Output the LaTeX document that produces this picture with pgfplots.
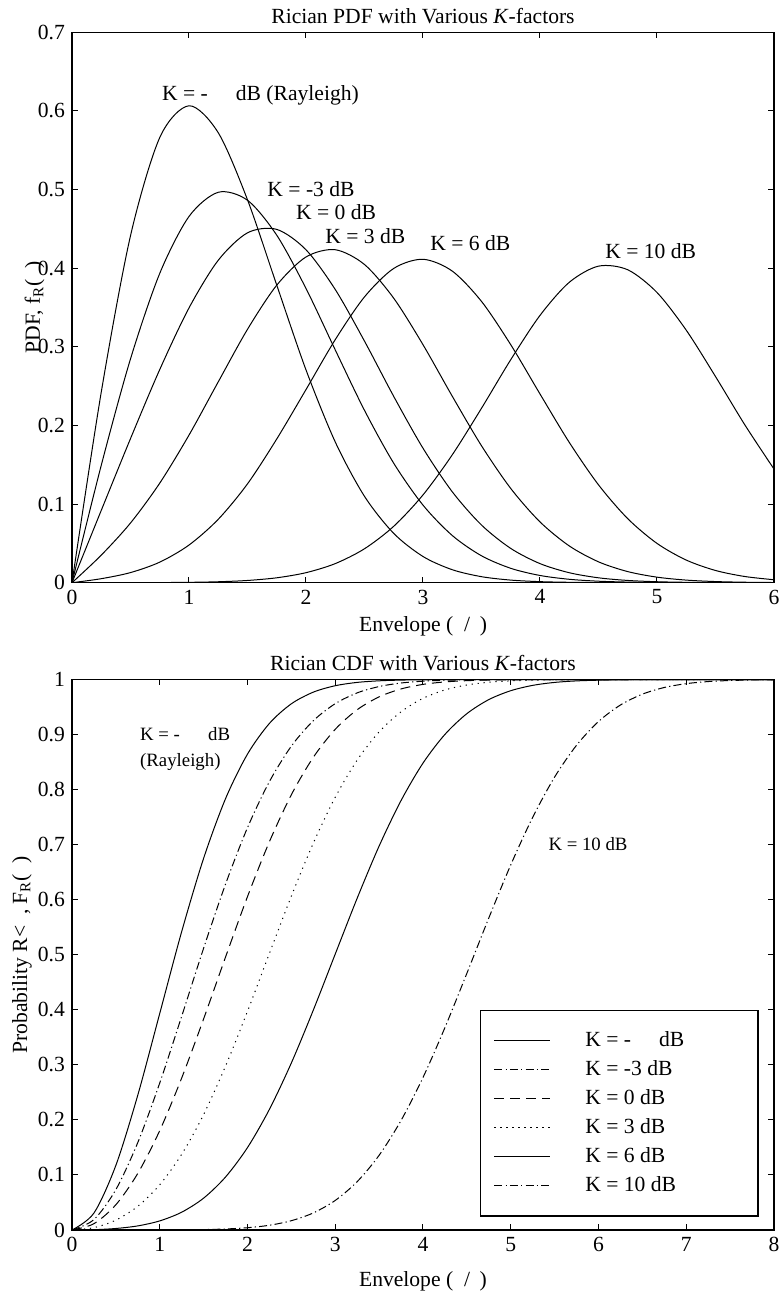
\documentclass[border=0pt]{standalone}
\usepackage{fontspec}
\setmainfont{Liberation Serif}
\usepackage{pgfplots}
\pgfplotsset{compat=1.18}
\begin{document}
\begin{tikzpicture}[
  cdash/.style={dash pattern=on 4pt off 1.6pt on 0.6pt off 1.6pt},
  cdashed/.style={dash pattern=on 5pt off 3pt},
  cdot/.style={dash pattern=on 0.6pt off 2.4pt}]
\useasboundingbox (-36pt,-356.65pt) rectangle (355.5pt,291.35pt);
\pgfplotsset{
  every axis/.append style={
    scale only axis, width=351pt, height=275.2pt,
    font=\fontsize{10.8}{13}\selectfont,
    axis line style={line width=0.6pt},
    every tick/.style={black, line width=0.5pt},
    major tick length=2.8pt,
    /pgf/number format/assume math mode=true,
    yticklabel style={/pgf/number format/fixed,/pgf/number format/precision=1},
  },
  every axis title/.style={at={(0.5,1.0158)}, anchor=base},
  every axis plot/.append style={black, line width=0.5pt, no markers, smooth},
}
% ---------------- PDF ----------------
\begin{axis}[at={(0pt,0pt)}, anchor=south west,
  xmin=0, xmax=6, ymin=0, ymax=0.7,
  xtick={0,1,2,3,4,5,6},
  ytick={0,0.1,0.2,0.3,0.4,0.5,0.6,0.7},
  title={Rician PDF with Various \textit{K}-factors},
  xlabel={Envelope (\hspace{0.5em}/\hspace{0.45em})},
  xlabel style={at={(axis description cs:0.5,-0.089)}, anchor=base},
  ylabel={PDF, f\textsubscript{R}(\hspace{0.5em})},
  ylabel style={at={(axis description cs:-0.0456,0.5)}, anchor=base, rotate=0},
]
\addplot[black,solid] coordinates {(0,0)(0.25,0.24231)(0.5,0.44125)(0.75,0.56613)(1,0.60653)(1.25,0.57229)(1.5,0.48698)(1.75,0.37846)(2,0.27067)(2.25,0.17901)(2.5,0.10984)(2.75,0.06268)(3,0.03333)(3.25,0.01653)(3.5,0.00766)(3.75,0.00331)(4,0.00134)(4.25,0.00051)(4.5,0.00018)(4.75,0.00006)(5,0.00002)(5.5,0)(6,0)};
\addplot[black,solid] coordinates {(0,0)(0.25,0.14927)(0.5,0.28462)(0.75,0.39339)(1,0.46576)(1.25,0.49653)(1.5,0.48639)(1.75,0.44194)(2,0.37424)(2.25,0.29609)(2.5,0.21919)(2.75,0.15191)(3,0.09867)(3.25,0.06005)(3.5,0.03423)(3.75,0.01830)(4,0.00919)(4.25,0.00434)(4.5,0.0019)(4.75,0.0008)(5,0.0003)(5.5,0.00003)(6,0)};
\addplot[black,solid] coordinates {(0,0)(0.25,0.09195)(0.5,0.18326)(0.75,0.27109)(1,0.34944)(1.25,0.41007)(1.5,0.44498)(1.75,0.44934)(2,0.42342)(2.25,0.37290)(2.5,0.30722)(2.75,0.23686)(3,0.17106)(3.25,0.11567)(3.5,0.07335)(3.75,0.04359)(4,0.02429)(4.25,0.01269)(4.5,0.00622)(4.75,0.00286)(5,0.00123)(5.25,0.0005)(5.5,0.00019)(5.75,0.00007)(6,0.00002)};
\addplot[black,solid] coordinates {(0,0)(0.25,0.035035)(0.5,0.075924)(0.75,0.126632)(1,0.187698)(1.25,0.25543)(1.5,0.322267)(1.75,0.37838)(2,0.41427)(2.25,0.423466)(2.5,0.404664)(2.75,0.361744)(3,0.302693)(3.25,0.237204)(3.5,0.174156)(3.75,0.119847)(4,0.077318)(4.25,0.046773)(4.5,0.026539)(4.75,0.014125)(5,0.007053)(5.25,0.003305)(5.5,0.001453)(5.75,0.0006)(6,0.000232)};
\addplot[black,solid] coordinates {(0,0)(0.25,0.005103)(0.5,0.012874)(0.75,0.026154)(1,0.047887)(1.25,0.080639)(1.5,0.125711)(1.75,0.182778)(2,0.24561)(2.25,0.309128)(2.5,0.3635)(2.75,0.399692)(3,0.411314)(3.25,0.396327)(3.5,0.357763)(3.75,0.302667)(4,0.240034)(4.25,0.178497)(4.5,0.124481)(4.75,0.081437)(5,0.049984)(5.25,0.028783)(5.5,0.015554)(5.75,0.007888)(6,0.003755)};
\addplot[black,solid] coordinates {(0,0)(0.25,0.0000147)(0.5,0.0000541)(0.75,0.000168)(1,0.00047)(1.25,0.001204)(1.5,0.002847)(1.75,0.006245)(2,0.012751)(2.25,0.024276)(2.5,0.043168)(2.75,0.071767)(3,0.111642)(3.25,0.162603)(3.5,0.221846)(3.75,0.283637)(4,0.339942)(4.25,0.382009)(4.5,0.402589)(4.75,0.397973)(5,0.369077)(5.25,0.321154)(5.5,0.26223)(5.75,0.200936)(6,0.14451)};
\node[anchor=base west] at (axis cs:0.709,0.6135) {K = -\hspace{1.3em}dB (Rayleigh)};
\node[anchor=base west] at (axis cs:1.61,0.4913) {K = -3 dB};
\node[anchor=base west] at (axis cs:1.855,0.4625) {K = 0 dB};
\node[anchor=base west] at (axis cs:2.105,0.432) {K = 3 dB};
\node[anchor=base west] at (axis cs:3.003,0.4222) {K = 6 dB};
\node[anchor=base west] at (axis cs:4.498,0.4129) {K = 10 dB};
\end{axis}
% ---------------- CDF ----------------
\begin{axis}[at={(0pt,-323.65pt)}, anchor=south west,
  xmin=0, xmax=8, ymin=0, ymax=1,
  xtick={0,1,2,3,4,5,6,7,8},
  ytick={0,0.1,0.2,0.3,0.4,0.5,0.6,0.7,0.8,0.9,1},
  title={Rician CDF with Various \textit{K}-factors},
  xlabel={Envelope (\hspace{0.5em}/\hspace{0.45em})},
  xlabel style={at={(axis description cs:0.5,-0.103)}, anchor=base},
  ylabel={Probability R<\hspace{0.5em}, F\textsubscript{R}(\hspace{0.5em})},
  ylabel style={at={(axis description cs:-0.0641,0.5)}, anchor=base, rotate=0},
  legend cell align=left,
  legend image code/.code={\draw[line width=0.5pt,#1] (6.85pt,0pt) -- (34.85pt,0pt); \path[draw=none] (0pt,0pt) -- (52.35pt,0pt);},
  legend style={at={(0.581,0.0242)}, anchor=south west, draw=black, line width=0.8pt,
    inner xsep=0pt, inner ysep=10.6pt, row sep=5.5pt, nodes={inner sep=0pt},
    font=\fontsize{10.8}{13}\selectfont},
]
\addplot[black,solid] coordinates {(0,0)(0.25,0.03077)(0.5,0.1175)(0.75,0.24516)(1,0.39347)(1.25,0.54217)(1.5,0.67535)(1.75,0.78374)(2,0.86466)(2.25,0.92044)(2.5,0.95606)(2.75,0.97721)(3,0.98889)(3.25,0.99491)(3.5,0.99781)(3.75,0.99912)(4,0.99966)(4.5,0.99996)(5,1)(8,1)};
\addlegendentry{\makebox[86.35pt][l]{K = -\hspace{1.3em}dB}}
\addplot[black,cdash] coordinates {(0,0)(0.25,0.01895)(0.5,0.07348)(0.75,0.15899)(1,0.26714)(1.25,0.38828)(1.5,0.51199)(1.75,0.62852)(2,0.73103)(2.25,0.81479)(2.5,0.87918)(2.75,0.92527)(3,0.9563)(3.25,0.97587)(3.5,0.98739)(3.75,0.99382)(4,0.99711)(4.25,0.99875)(4.5,0.99948)(5,0.99993)(5.5,1)(8,1)};
\addlegendentry{\makebox[86.35pt][l]{K = -3 dB}}
\addplot[black,cdashed] coordinates {(0,0)(0.25,0.01151)(0.5,0.04592)(0.75,0.10291)(1,0.18068)(1.25,0.27615)(1.5,0.38357)(1.75,0.49599)(2,0.60572)(2.25,0.70557)(2.5,0.7909)(2.75,0.85882)(3,0.90971)(3.25,0.94528)(3.5,0.96864)(3.75,0.98304)(4,0.9913)(4.25,0.99582)(4.5,0.99808)(4.75,0.99918)(5,0.99965)(5.5,0.99994)(6,1)(8,1)};
\addlegendentry{\makebox[86.35pt][l]{K = 0 dB}}
\addplot[black,cdot] coordinates {(0,0)(0.25,0.00426)(0.5,0.01801)(0.75,0.04311)(1,0.08218)(1.25,0.13759)(1.5,0.20982)(1.75,0.29783)(2,0.39733)(2.25,0.50263)(2.5,0.60673)(2.75,0.70287)(3,0.78626)(3.25,0.85369)(3.5,0.90506)(3.75,0.94157)(4,0.96597)(4.25,0.98126)(4.5,0.99021)(4.75,0.99519)(5,0.99772)(5.25,0.99898)(5.5,0.99953)(5.75,0.99978)(6,0.99987)(6.5,1)(8,1)};
\addlegendentry{\makebox[86.35pt][l]{K = 3 dB}}
\addplot[black,solid] coordinates {(0,0)(0.25,0.00058)(0.5,0.00277)(0.75,0.00748)(1,0.01656)(1.25,0.03236)(1.5,0.0579)(1.75,0.09634)(2,0.14977)(2.25,0.2193)(2.5,0.30357)(2.75,0.39948)(3,0.50137)(3.25,0.60282)(3.5,0.69757)(3.75,0.78028)(4,0.84827)(4.25,0.90043)(4.5,0.93815)(4.75,0.96365)(5,0.97983)(5.25,0.98951)(5.5,0.99489)(5.75,0.99765)(6,0.99893)(6.25,0.99958)(6.5,0.9999)(7,1)(8,1)};
\addlegendentry{\makebox[86.35pt][l]{K = 6 dB}}
\addplot[black,cdash] coordinates {(0,0)(0.5,0.00001)(1,0.00011)(1.25,0.0003)(1.5,0.00079)(1.75,0.00186)(2,0.00417)(2.25,0.00864)(2.5,0.01692)(2.75,0.03105)(3,0.05374)(3.25,0.08785)(3.5,0.13574)(3.75,0.19904)(4,0.2771)(4.25,0.36779)(4.5,0.46631)(4.75,0.56689)(5,0.66327)(5.25,0.74978)(5.5,0.82293)(5.75,0.88073)(6,0.92381)(6.25,0.95383)(6.5,0.97352)(6.75,0.98566)(7,0.99264)(7.25,0.99646)(7.5,0.99838)(7.75,0.99931)(8,0.99972)};
\addlegendentry{\makebox[86.35pt][l]{K = 10 dB}}
\node[anchor=base west, font=\fontsize{9.4}{11}\selectfont] at (axis cs:0.696,0.889) {K = -\hspace{1.5em}dB};
\node[anchor=base west, font=\fontsize{9.4}{11}\selectfont] at (axis cs:0.696,0.8413) {(Rayleigh)};
\node[anchor=base west, font=\fontsize{9.4}{11}\selectfont] at (axis cs:5.35,0.69) {K = 10 dB};
\end{axis}
\end{tikzpicture}
\end{document}
